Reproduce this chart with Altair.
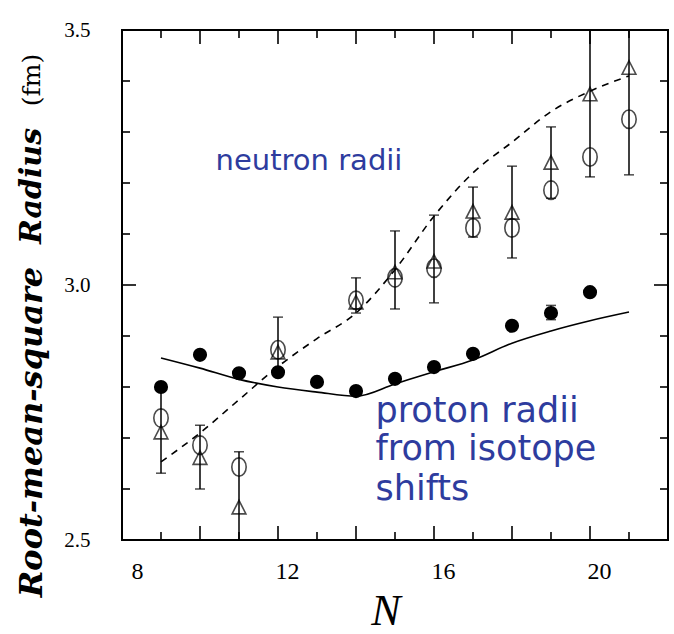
import altair as alt
import pandas as pd

# ---- data -------------------------------------------------------------
# proton radii from isotope shifts (filled circles)
proton_N = [9, 10, 11, 12, 13, 14, 15, 16, 17, 18, 19, 20]
proton_r = [2.800, 2.863, 2.827, 2.829, 2.810, 2.792, 2.816, 2.839, 2.865, 2.920, 2.945, 2.986]

# the one proton point with a visible error bar
proton_err_N = [19]
proton_err_lo = [2.932]
proton_err_hi = [2.960]

# neutron radii: two analyses (open circles, open triangles) with error bars
neutron_N = [9, 10, 11, 12, 14, 15, 16, 17, 18, 19, 20, 21]
neutron_circ = [2.739, 2.686, 2.643, 2.873, 2.970, 3.014, 3.033, 3.112, 3.112, 3.186, 3.251, 3.325]
neutron_tri = [2.710, 2.660, 2.563, 2.867, 2.965, 3.024, 3.045, 3.143, 3.141, 3.239, 3.373, 3.425]
neutron_lo = [2.631, 2.600, 2.450, 2.830, 2.945, 2.953, 2.965, 3.094, 3.053, 3.170, 3.212, 3.216]
neutron_hi = [2.800, 2.725, 2.673, 2.937, 3.014, 3.106, 3.137, 3.192, 3.233, 3.310, 3.550, 3.550]

# theory curves
theory_N = [9, 10, 11, 12, 13, 14, 15, 16, 17, 18, 19, 20, 21]
theory_proton = [2.857, 2.837, 2.815, 2.800, 2.790, 2.782, 2.806, 2.830, 2.853, 2.886, 2.910, 2.930, 2.947]
theory_neutron = [2.653, 2.710, 2.775, 2.840, 2.895, 2.945, 3.030, 3.135, 3.220, 3.280, 3.340, 3.380, 3.410]

# axis ticks
x_major = [10, 12, 14, 16, 18, 20]
x_minor = [9, 11, 13, 15, 17, 19, 21]
y_major = [3.0]
y_minor = [2.6, 2.7, 2.8, 2.9, 3.1, 3.2, 3.3, 3.4]
x_labels = [8, 12, 16, 20]
y_labels = [2.5, 3.0, 3.5]

# ---- layout -----------------------------------------------------------
W, H = 546, 510
MAJOR, MINOR = 14, 8
SERIF = "Liberation Serif"
TITLE_FONT = "DejaVu Serif"
SANS = "DejaVu Sans"
BLUE = "#2E3C9E"

xs = alt.Scale(domain=[8, 22], nice=False, zero=False)
ys = alt.Scale(domain=[2.5, 3.5], nice=False, zero=False)
x_axis = alt.Axis(values=x_labels, title=None)
y_axis = alt.Axis(values=y_labels, format=".1f", title=None)

proton = pd.DataFrame({"N": proton_N, "r": proton_r})
proton_err = pd.DataFrame({"N": proton_err_N, "lo": proton_err_lo, "hi": proton_err_hi})
neutron = pd.DataFrame({"N": neutron_N, "circ": neutron_circ, "tri": neutron_tri,
                        "lo": neutron_lo, "hi": neutron_hi})
theory = pd.DataFrame({"N": theory_N, "p": theory_proton, "n": theory_neutron})


def xq(field="N"):
    return alt.X(f"{field}:Q", scale=xs, axis=x_axis)


def yq(field):
    return alt.Y(f"{field}:Q", scale=ys, axis=y_axis)


layers = []


# inward tick marks on all four sides
def xticks(vals, length):
    df = pd.DataFrame({"N": vals})
    base = alt.Chart(df).mark_rule(color="black", strokeWidth=1.6)
    return [base.encode(x=xq(), y=alt.value(H), y2=alt.value(H - length)),
            base.encode(x=xq(), y=alt.value(0), y2=alt.value(length))]


def yticks(vals, length):
    df = pd.DataFrame({"v": vals})
    base = alt.Chart(df).mark_rule(color="black", strokeWidth=1.6)
    return [base.encode(y=yq("v"), x=alt.value(0), x2=alt.value(length)),
            base.encode(y=yq("v"), x=alt.value(W), x2=alt.value(W - length))]


layers += xticks(x_major, MAJOR) + xticks(x_minor, MINOR)
layers += yticks(y_major, MAJOR) + yticks(y_minor, MINOR)

# theory curves
layers.append(alt.Chart(theory).mark_line(color="black", strokeWidth=1.6, strokeDash=[7, 6],
                                          interpolate="monotone")
              .encode(x=xq(), y=yq("n")))
layers.append(alt.Chart(theory).mark_line(color="black", strokeWidth=1.6, interpolate="monotone")
              .encode(x=xq(), y=yq("p")))

# error bars with caps
for df in [neutron, proton_err]:
    layers.append(alt.Chart(df).mark_rule(color="black", strokeWidth=1.5, clip=True)
                  .encode(x=xq(), y=yq("lo"), y2="hi:Q"))
    for f in ["lo", "hi"]:
        layers.append(alt.Chart(df).mark_tick(color="black", orient="horizontal", size=10,
                                              thickness=1.5, clip=True)
                      .encode(x=xq(), y=yq(f)))

ELLIPSE = "M-0.78,0 A0.78,1 0 1,0 0.78,0 A0.78,1 0 1,0 -0.78,0 Z"
TRIANGLE = "M0,-1 L0.92,0.8 L-0.92,0.8 Z"

layers.append(alt.Chart(neutron).mark_point(shape=ELLIPSE, size=340, filled=False,
                                            color="black", strokeWidth=1.6, clip=True)
              .encode(x=xq(), y=yq("circ")))
layers.append(alt.Chart(neutron).mark_point(shape=TRIANGLE, size=225, filled=False,
                                            color="black", strokeWidth=1.6, clip=True)
              .encode(x=xq(), y=yq("tri")))

layers.append(alt.Chart(proton).mark_point(shape="circle", size=200, filled=True,
                                           color="black", opacity=1)
              .encode(x=xq(), y=yq("r")))

# annotations
layers.append(alt.Chart(pd.DataFrame({"N": [10.4], "v": [3.225], "t": ["neutron radii"]}))
              .mark_text(font=SANS, fontSize=29, color=BLUE, align="left", baseline="alphabetic")
              .encode(x=xq(), y=yq("v"), text="t:N"))
layers.append(alt.Chart(pd.DataFrame({"N": [14.5, 14.5, 14.5], "v": [2.731, 2.657, 2.578],
                                      "t": ["proton radii", "from isotope", "shifts"]}))
              .mark_text(font=SANS, fontSize=35, color=BLUE, align="left", baseline="alphabetic")
              .encode(x=xq(), y=yq("v"), text="t:N"))

# axis titles
layers.append(alt.Chart(pd.DataFrame({"t": ["N"]}))
              .mark_text(font=SERIF, fontSize=44, fontStyle="italic", color="black",
                         baseline="middle", align="center")
              .encode(x=alt.value(264), y=alt.value(H + 72), text="t:N"))
layers.append(alt.Chart(pd.DataFrame({"t": ["Root-mean-square"]}))
              .mark_text(font=TITLE_FONT, fontSize=32, fontStyle="italic", fontWeight="bold",
                         color="black", angle=270, baseline="middle", align="center")
              .encode(x=alt.value(-90), y=alt.value(402), text="t:N"))
layers.append(alt.Chart(pd.DataFrame({"t": ["Radius"]}))
              .mark_text(font=TITLE_FONT, fontSize=30, fontStyle="italic", fontWeight="bold",
                         color="black", angle=270, baseline="middle", align="center")
              .encode(x=alt.value(-90), y=alt.value(156), text="t:N"))
layers.append(alt.Chart(pd.DataFrame({"t": ["(fm)"]}))
              .mark_text(font=TITLE_FONT, fontSize=25, color="black", angle=270,
                         baseline="middle", align="center")
              .encode(x=alt.value(-90), y=alt.value(50), text="t:N"))

chart = alt.layer(*layers).properties(
    width=W, height=H,
    background="white",
    autosize=alt.AutoSizeParams(type="none"),
    padding={"left": 122, "top": 30, "right": 6, "bottom": 94},
).configure_view(
    stroke="black", strokeWidth=2
).configure_axis(
    ticks=False, tickSize=0, domain=False, grid=False,
    labelFont=SERIF, labelColor="black",
).configure_axisX(
    labelPadding=19, labelFontSize=24, labelOffset=9
).configure_axisY(
    labelPadding=32, labelFontSize=21
)

chart.save("out.html", embed_options={"renderer": "svg", "actions": False})
